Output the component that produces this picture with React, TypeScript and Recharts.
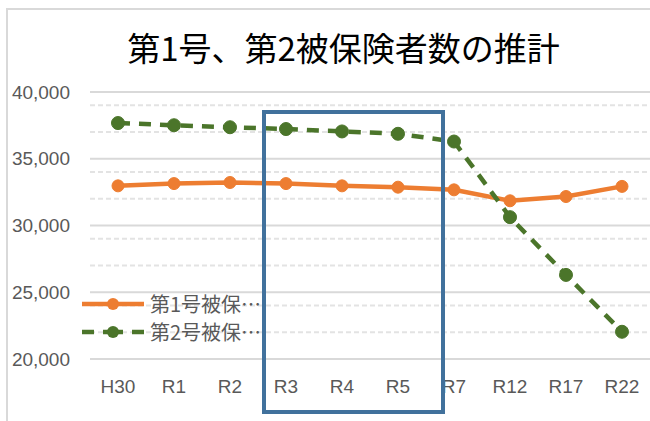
import {
  CartesianGrid,
  Legend,
  Line,
  LineChart,
  XAxis,
  YAxis,
} from "recharts";

const categories = ["H30", "R1", "R2", "R3", "R4", "R5", "R7", "R12", "R17", "R22"];
const type1Values = [32970, 33140, 33220, 33140, 32970, 32870, 32670, 31850, 32170, 32930];
const type2Values = [37675, 37510, 37360, 37225, 37045, 36870, 36290, 30625, 26300, 22040];
const seriesNames = ["第1号被保険者", "第2号被保険者"];
const majorTicks = [20000, 25000, 30000, 35000, 40000];
const minorTicks = [
  21000, 22000, 23000, 24000, 26000, 27000, 28000, 29000, 31000, 32000,
  33000, 34000, 36000, 37000, 38000, 39000,
];

const title = "第1号、第2被保険者数の推計";

const colors = {
  type1: "#ED7D31",
  type2: "#4B752A",
  tick: "#595959",
  major: "#D9D9D9",
  minor: "#E3E3E3",
  box: "#41719C",
};

const data = categories.map((name, i) => ({
  name,
  type1: type1Values[i],
  type2: type2Values[i],
}));

const tickFont = { fontFamily: "Liberation Sans", fontSize: 19, fill: colors.tick };

const LegendContent = (props: any) => {
  const items = props.payload || [];
  return (
    <div style={{ fontFamily: "Noto Sans CJK JP", fontSize: 20, color: colors.tick }}>
      {items.map((item: any, i: number) => (
        <div key={i} style={{ display: "flex", alignItems: "center", height: 27.7 }}>
          <svg width={70} height={16} style={{ display: "block" }}>
            <line
              x1={2}
              y1={8}
              x2={64}
              y2={8}
              stroke={item.color}
              strokeWidth={4.5}
              strokeDasharray={i === 1 ? "12 9 20 9 12" : undefined}
            />
            <circle cx={33} cy={8} r={6} fill={item.color} />
          </svg>
          <span style={{ whiteSpace: "nowrap" }}>
            {String(item.value).slice(0, 5) + "…"}
          </span>
        </div>
      ))}
    </div>
  );
};

export default function App() {
  return (
    <div
      style={{
        position: "absolute",
        left: 0,
        top: 0,
        width: 650,
        height: 421,
        background: "#fff",
        overflow: "hidden",
      }}
    >
      <div
        style={{
          position: "absolute",
          left: 6,
          top: 8,
          width: 700,
          height: 500,
          borderLeft: "2px solid #D9D9D9",
          borderTop: "2px solid #D9D9D9",
        }}
      />
      <div
        style={{
          position: "absolute",
          left: 0,
          top: 31,
          width: 687,
          textAlign: "center",
          fontFamily: "Noto Sans CJK JP",
          fontSize: 33,
          lineHeight: "33px",
          color: "#000",
          whiteSpace: "nowrap",
        }}
      >
        {title}
      </div>
      <div style={{ position: "absolute", left: 0, top: 0 }}>
        <LineChart
          width={650}
          height={421}
          data={data}
          margin={{ top: 92, right: 0, bottom: 22, left: 0 }}
        >
          <CartesianGrid
            vertical={false}
            horizontalValues={minorTicks}
            stroke={colors.minor}
            strokeWidth={2}
            strokeDasharray="5 3"
          />
          <CartesianGrid
            vertical={false}
            horizontalValues={majorTicks}
            stroke={colors.major}
            strokeWidth={2}
          />
          <XAxis
            dataKey="name"
            axisLine={false}
            tickLine={false}
            tickSize={0}
            tickMargin={21}
            height={40}
            padding={{ left: 28, right: 28 }}
            tick={tickFont}
            interval={0}
          />
          <YAxis
            domain={[20000, 40000]}
            ticks={majorTicks}
            axisLine={false}
            tickLine={false}
            tickSize={0}
            tickMargin={20}
            width={90}
            tick={tickFont}
            tickFormatter={(v: number) => v.toLocaleString("en-US")}
          />
          <Legend
            layout="vertical"
            align="center"
            verticalAlign="middle"
            wrapperStyle={{ left: 80, top: 290, width: 200 }}
            content={<LegendContent />}
          />
          <Line
            dataKey="type1"
            name={seriesNames[0]}
            stroke={colors.type1}
            strokeWidth={4.5}
            dot={{ r: 6, fill: colors.type1, stroke: colors.type1, strokeWidth: 1 }}
            isAnimationActive={false}
          />
          <Line
            dataKey="type2"
            name={seriesNames[1]}
            stroke={colors.type2}
            strokeWidth={4.5}
            strokeDasharray="12 9"
            dot={{ r: 6.5, fill: colors.type2, stroke: colors.type2, strokeWidth: 1, strokeDasharray: "" }}
            isAnimationActive={false}
          />
        </LineChart>
      </div>
      <div
        style={{
          position: "absolute",
          left: 262,
          top: 109.7,
          width: 182.7,
          height: 304,
          boxSizing: "border-box",
          border: `4px solid ${colors.box}`,
          pointerEvents: "none",
        }}
      />
    </div>
  );
}
